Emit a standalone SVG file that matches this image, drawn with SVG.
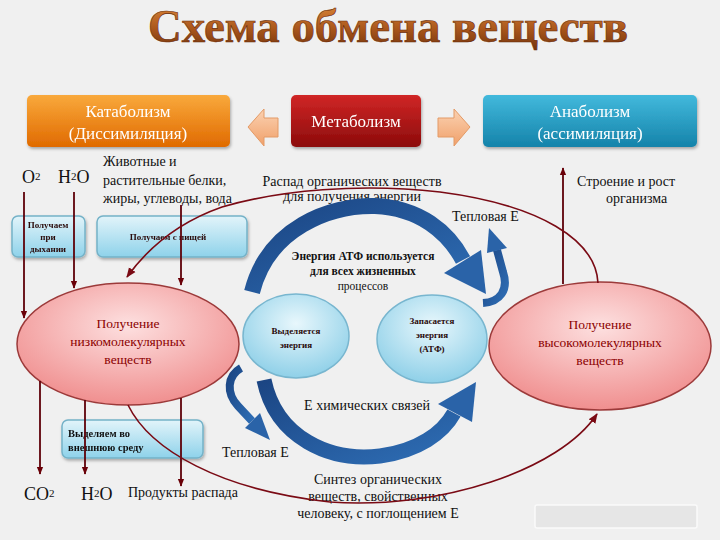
<svg xmlns="http://www.w3.org/2000/svg" width="720" height="540" viewBox="0 0 720 540">
<defs>
<linearGradient id="gTitle" x1="0" y1="0" x2="0" y2="1"><stop offset="0" stop-color="#e08a3c"/><stop offset="0.55" stop-color="#a9561b"/><stop offset="1" stop-color="#6e300c"/></linearGradient>
<linearGradient id="gOrange" x1="0" y1="0" x2="0" y2="1"><stop offset="0" stop-color="#f9a93c"/><stop offset="1" stop-color="#e06a00"/></linearGradient>
<linearGradient id="gRed" x1="0" y1="0" x2="0" y2="1"><stop offset="0" stop-color="#d02626"/><stop offset="1" stop-color="#8c0b0b"/></linearGradient>
<linearGradient id="gBlue" x1="0" y1="0" x2="0" y2="1"><stop offset="0" stop-color="#42b9dc"/><stop offset="1" stop-color="#1583aa"/></linearGradient>
<linearGradient id="gLight" x1="0" y1="0" x2="0" y2="1"><stop offset="0" stop-color="#e2f4fa"/><stop offset="1" stop-color="#8ed2ea"/></linearGradient>
<linearGradient id="gArrow" x1="0" y1="0" x2="0" y2="1"><stop offset="0" stop-color="#fbd2b2"/><stop offset="1" stop-color="#f0a06a"/></linearGradient>
<radialGradient id="gPink" cx="0.5" cy="0.35" r="0.65"><stop offset="0" stop-color="#fde0e0"/><stop offset="1" stop-color="#f08f8f"/></radialGradient>
<radialGradient id="gCyan" cx="0.5" cy="0.35" r="0.65"><stop offset="0" stop-color="#e8f7fc"/><stop offset="1" stop-color="#8fd0e8"/></radialGradient>
<linearGradient id="gNavy" x1="0" y1="0" x2="1" y2="1"><stop offset="0" stop-color="#1b4583"/><stop offset="1" stop-color="#2e6db4"/></linearGradient>
<filter id="sh" x="-10%" y="-10%" width="120%" height="130%"><feDropShadow dx="1" dy="2" stdDeviation="1.5" flood-color="#000" flood-opacity="0.3"/></filter>
<marker id="mA" viewBox="0 0 10 10" refX="9" refY="5" markerWidth="8" markerHeight="8" markerUnits="userSpaceOnUse" orient="auto"><path d="M0,1 L10,5 L0,9 Z" fill="#6a0008"/></marker>
<marker id="mB" viewBox="0 0 10 10" refX="9" refY="5" markerWidth="10" markerHeight="10" markerUnits="userSpaceOnUse" orient="auto"><path d="M0,1 L10,5 L0,9 Z" fill="#7a0a14"/></marker>
</defs>
<style>
text{font-family:"Liberation Serif","DejaVu Serif",serif;fill:#111}
.hdr{fill:#fff;font-size:17px;text-anchor:middle}
.lbl{font-size:14px}
.mid{text-anchor:middle}
.sub{font-size:11px}
.ell{fill:#8b0000;font-size:13.5px;text-anchor:middle}
.sm{font-size:9px;font-weight:bold;text-anchor:middle;fill:#2a0a0a}
.bx{fill:url(#gLight);stroke:#74b2c8;stroke-width:1.5}
.ln{stroke:#5e0008;stroke-width:1.8;fill:none;marker-end:url(#mA)}
.cyc{stroke:#7a0a14;stroke-width:1.6;fill:none;marker-end:url(#mB)}
.bl{stroke:url(#gNavy);fill:none;stroke-linecap:butt}
.ah{fill:#2a63a8}
</style>
<rect width="720" height="540" fill="#f0f0f0"/>
<text x="388" y="42" font-size="46" font-weight="bold" text-anchor="middle" textLength="480" lengthAdjust="spacingAndGlyphs" style="fill:url(#gTitle);stroke:#6a2a08;stroke-width:0.6">Схема обмена веществ</text>

<g id="catabolism" filter="url(#sh)"><rect x="27" y="95" width="203" height="52" rx="5" fill="url(#gOrange)"/><text class="hdr" x="128" y="117">Катаболизм</text><text class="hdr" x="128" y="139">(Диссимиляция)</text></g>
<g id="metabolism" filter="url(#sh)"><rect x="291" y="95" width="130" height="52" rx="5" fill="url(#gRed)"/><text class="hdr" x="356" y="127">Метаболизм</text></g>
<g id="anabolism" filter="url(#sh)"><rect x="483" y="95" width="214" height="52" rx="5" fill="url(#gBlue)"/><text class="hdr" x="590" y="117">Анаболизм</text><text class="hdr" x="590" y="139">(ассимиляция)</text></g>
<g id="arrow-left"><polygon points="248,127 264,109 264,118 278,118 278,137 264,137 264,146" fill="url(#gArrow)" stroke="#e39a66"/></g>
<g id="arrow-right"><polygon points="470,127 454,109 454,118 438,118 438,137 454,137 454,146" fill="url(#gArrow)" stroke="#e39a66"/></g>

<g id="labels">
<text x="22" y="183" font-size="18">O<tspan class="sub" dy="-3">2</tspan></text><text x="58" y="183" font-size="18">H<tspan class="sub" dy="-3">2</tspan><tspan dy="3">O</tspan></text>
<text class="lbl" x="103" y="166">Животные и</text>
<text class="lbl" x="103" y="185">растительные  белки,</text>
<text class="lbl" x="103" y="203">жиры, углеводы, вода</text>
<text class="lbl mid" x="352" y="186">Распад органических веществ</text>
<text class="lbl mid" x="352" y="201">для получения энергии</text>
<text class="lbl" x="452" y="221" font-size="13">Тепловая  E</text>
<text class="lbl" x="577" y="186">Строение и рост</text>
<text class="lbl" x="606" y="203">организма</text>
<text class="mid" x="363" y="260" font-size="11.5" font-weight="bold">Энергия АТФ используется</text>
<text class="mid" x="363" y="275" font-size="11.5" font-weight="bold">для всех жизненных</text>
<text class="mid" x="363" y="290" font-size="11.5">процессов</text>
<text class="lbl mid" x="367" y="410">E химических связей</text>
<text class="lbl" x="222" y="457" font-size="13">Тепловая  E</text>
<text x="24" y="500" font-size="18">CO<tspan class="sub" dy="-3">2</tspan></text><text x="81" y="500" font-size="18">H<tspan class="sub" dy="-3">2</tspan><tspan dy="3">O</tspan></text>
<text class="lbl" x="128" y="497">Продукты распада</text>
<text class="lbl mid" x="378" y="484">Синтез органических</text>
<text class="lbl mid" x="378" y="501">веществ,  свойственных</text>
<text class="lbl mid" x="378" y="518">человеку, с поглощением  E</text>
</g>

<g id="box-breath" filter="url(#sh)"><rect class="bx" x="12" y="216" width="73" height="41" rx="6"/><text class="sm" x="48" y="228" font-size="8.5">Получаем</text><text class="sm" x="48" y="240" font-size="8.5">при</text><text class="sm" x="48" y="252" font-size="8.5">дыхании</text></g>
<g id="box-food" filter="url(#sh)"><rect class="bx" x="97" y="216" width="150" height="41" rx="6"/><text class="sm" x="168" y="240" font-size="10">Получаем с    пищей</text></g>
<g id="box-excrete" filter="url(#sh)"><rect class="bx" x="62" y="420" width="141" height="38" rx="6"/><text x="68" y="437" font-size="10.5" font-weight="bold">Выделяем      во</text><text x="68" y="451" font-size="10.5" font-weight="bold">внешнюю среду</text></g>

<g id="low-mol"><ellipse cx="128" cy="344" rx="111" ry="61" fill="url(#gPink)" stroke="#9c3a3a" stroke-width="1.5"/><text class="ell" x="128" y="328">Получение</text><text class="ell" x="128" y="346">низкомолекулярных</text><text class="ell" x="128" y="364">веществ</text></g>
<g id="high-mol"><ellipse cx="600" cy="346" rx="111" ry="64" fill="url(#gPink)" stroke="#9c3a3a" stroke-width="1.5"/><text class="ell" x="600" y="329">Получение</text><text class="ell" x="600" y="347">высокомолекулярных</text><text class="ell" x="600" y="365">веществ</text></g>
<g id="release"><ellipse cx="296" cy="336" rx="53" ry="42" fill="url(#gCyan)" stroke="#78b6cf" stroke-width="1.5"/><text class="sm" x="296" y="334">Выделяется</text><text class="sm" x="296" y="348">энергия</text></g>
<g id="store"><ellipse cx="432" cy="339" rx="55" ry="44" fill="url(#gCyan)" stroke="#78b6cf" stroke-width="1.5"/><text class="sm" x="432" y="324">Запасается</text><text class="sm" x="432" y="338">энергия</text><text class="sm" x="432" y="352">(АТФ)</text></g>

<g id="connectors">
<path class="ln" d="M24 192 V318"/>
<path class="ln" d="M74 192 V288"/>
<path class="ln" d="M181 205 V285"/>
<path class="ln" d="M40 381 V474"/>
<path class="ln" d="M85 400 V474"/>
<path class="ln" d="M181 398 V486"/>
<path class="ln" d="M563 284 V168"/>
<path class="cyc" d="M598 283 C596 240 540 205 440 192 C360 183 280 190 222 207 C182 221 150 245 127 277"/>
<path class="cyc" d="M128 405 C150 450 220 490 330 502 C440 510 560 470 597 414"/>
<path class="bl" stroke-width="16" d="M252 292 C268 228 330 205 375 206 C420 208 448 232 463 260"/>
<polygon class="ah" points="486,294 444,273 481,250"/>
<path class="bl" stroke-width="15" d="M264 380 C276 438 330 462 380 456 C418 451 443 433 454 413"/>
<polygon class="ah" points="476,382 472,422 438,404"/>
<path class="bl" stroke-width="8" d="M483 303 C500 302 509 290 503 272 L497 250"/>
<polygon class="ah" points="489,228 487,253 507,248"/>
<path class="bl" stroke-width="8" d="M241 368 C227 376 226 393 238 406 L252 421"/>
<polygon class="ah" points="270,440 245,428 260,413"/>
</g>
<rect x="535" y="505" width="162" height="23" rx="2" fill="#e6e6e6" stroke="#fafafa" stroke-width="1.5"/>
</svg>
